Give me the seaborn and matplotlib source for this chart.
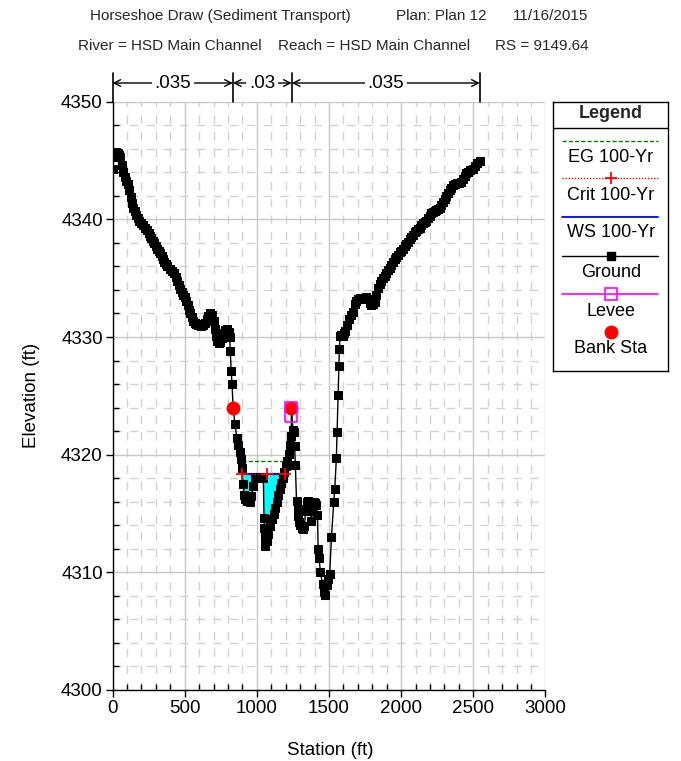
import numpy as np
import pandas as pd
import matplotlib
matplotlib.use('Agg')
import matplotlib.pyplot as plt
import matplotlib.transforms as mtransforms
from matplotlib.ticker import MultipleLocator
import seaborn as sns

# ---------------- data ----------------
ground_sta = [
    0, 8, 15, 25, 35, 45, 55, 65, 75, 85,
    95, 105, 115, 125, 135, 145, 155, 165, 175, 185,
    195, 210, 225, 240, 250, 260, 270, 280, 290, 300,
    310, 320, 330, 340, 350, 360, 370, 380, 395, 410,
    425, 440, 450, 460, 470, 480, 490, 500, 510, 520,
    530, 540, 550, 560, 570, 580, 595, 610, 625, 640,
    655, 665, 675, 690, 700, 708, 716, 725, 735, 748,
    760, 770, 780, 795, 805, 812, 816, 822, 828, 836,
    848, 862, 872, 880, 888, 894, 905, 912, 920, 935,
    950, 963, 974, 986, 1000, 1015, 1030, 1045, 1050, 1053,
    1056, 1060, 1070, 1080, 1092, 1104, 1116, 1128, 1139, 1150,
    1160, 1170, 1180, 1190, 1200, 1212, 1224, 1233, 1238, 1240,
    1250, 1258, 1262, 1267, 1275, 1282, 1288, 1295, 1300, 1310,
    1320, 1330, 1338, 1345, 1355, 1365, 1372, 1378, 1385, 1395,
    1405, 1413, 1420, 1425, 1431, 1441, 1455, 1465, 1471, 1485,
    1495, 1505, 1517, 1533, 1540, 1551, 1556, 1563, 1568, 1572,
    1576, 1585, 1595, 1605, 1610, 1625, 1640, 1655, 1667, 1678,
    1690, 1701, 1715, 1730, 1745, 1759, 1770, 1782, 1794, 1805,
    1817, 1828, 1840, 1852, 1863, 1875, 1887, 1898, 1910, 1920,
    1932, 1945, 1955, 1967, 1980, 1990, 2001, 2012, 2024, 2036,
    2048, 2059, 2070, 2082, 2093, 2105, 2117, 2128, 2140, 2152,
    2163, 2174, 2186, 2197, 2209, 2220, 2232, 2243, 2255, 2266,
    2278, 2290, 2301, 2312, 2324, 2335, 2347, 2358, 2372, 2387,
    2402, 2417, 2428, 2440, 2451, 2465, 2480, 2497, 2512, 2528,
    2543]
ground_elev = [
    4344.3, 4345.3, 4345.6, 4345.7, 4345.6, 4345.5, 4345.3, 4344.6, 4344.0, 4343.6,
    4343.3, 4343.0, 4342.5, 4341.9, 4341.4, 4341.0, 4340.7, 4340.4, 4340.1, 4339.9,
    4339.7, 4339.5, 4339.3, 4339.1, 4338.8, 4338.6, 4338.4, 4338.2, 4338.0, 4337.7,
    4337.5, 4337.3, 4337.1, 4336.9, 4336.6, 4336.4, 4336.2, 4336.0, 4335.8, 4335.6,
    4335.4, 4335.1, 4334.8, 4334.4, 4334.1, 4333.8, 4333.6, 4333.4, 4333.1, 4332.7,
    4332.3, 4332.0, 4331.7, 4331.4, 4331.2, 4331.1, 4331.0, 4330.9, 4331.0, 4331.2,
    4331.5, 4331.8, 4332.0, 4331.9, 4331.4, 4330.7, 4330.1, 4329.7, 4329.5, 4329.6,
    4329.9, 4330.3, 4330.6, 4330.7, 4330.4, 4330.0, 4328.8, 4327.1, 4326.0, 4324.0,
    4322.6, 4321.4, 4320.8, 4320.2, 4319.6, 4318.9, 4317.55, 4316.6, 4316.2, 4316.1,
    4316.0, 4316.5, 4317.3, 4318.05, 4318.1, 4318.1, 4318.1, 4318.05, 4314.6, 4313.8,
    4313.0, 4312.2, 4312.7, 4313.3, 4313.9, 4314.5, 4315.0, 4315.5, 4316.0, 4316.6,
    4317.1, 4317.6, 4318.0, 4318.5, 4319.0, 4319.5, 4320.1, 4320.8, 4321.6, 4324.0,
    4322.1, 4321.9, 4320.7, 4319.1, 4316.1, 4315.4, 4314.8, 4314.3, 4314.0, 4313.8,
    4313.7, 4313.9, 4315.2, 4316.0, 4316.1, 4315.9, 4315.2, 4314.4, 4315.6, 4316.0,
    4315.9, 4315.7, 4314.9, 4312.0, 4311.2, 4310.0, 4309.0, 4308.3, 4308.1, 4308.9,
    4309.4, 4309.9, 4313.0, 4316.0, 4317.1, 4319.7, 4321.9, 4325.1, 4327.5, 4329.0,
    4330.1, 4330.2, 4330.1, 4330.3, 4330.5, 4331.0, 4331.5, 4331.9, 4332.1, 4332.8,
    4333.1, 4333.2, 4333.3, 4333.3, 4333.2, 4333.4, 4333.2, 4332.9, 4332.7, 4332.8,
    4333.0, 4333.6, 4334.2, 4334.5, 4334.8, 4335.0, 4335.2, 4335.4, 4335.7, 4335.9,
    4336.1, 4336.4, 4336.6, 4336.8, 4337.0, 4337.2, 4337.35, 4337.5, 4337.7, 4337.9,
    4338.1, 4338.3, 4338.5, 4338.7, 4338.9, 4339.0, 4339.2, 4339.3, 4339.5, 4339.7,
    4339.8, 4339.9, 4340.1, 4340.3, 4340.5, 4340.6, 4340.7, 4340.8, 4340.9, 4341.0,
    4341.2, 4341.5, 4341.7, 4342.0, 4342.2, 4342.5, 4342.7, 4342.9, 4343.0, 4343.1,
    4343.1, 4343.2, 4343.4, 4343.7, 4343.9, 4344.0, 4344.2, 4344.3, 4344.5, 4344.8,
    4345.0]

bank_sta = [836, 1240]
bank_elev = [4324.0, 4324.0]
levee_sta = [1240]
levee_elev = [4323.65]
ws_sta = [897, 1187]
ws_elev = [4318.35, 4318.35]
crit_sta = [899, 1067, 1192]
crit_elev = [4318.4, 4318.4, 4318.4]
eg_sta = [894, 1225]
eg_elev = [4319.45, 4319.45]

n_bounds = [0, 834, 1242, 2545]
n_values = ['.035', '.03', '.035']

legend_labels = ['EG 100-Yr', 'Crit 100-Yr', 'WS 100-Yr', 'Ground', 'Levee', 'Bank Sta']

# ---------------- style ----------------
sns.set_theme(style='white')
plt.rcParams['font.family'] = ['Liberation Sans', 'DejaVu Sans']

W, H = 681, 761
fig = plt.figure(figsize=(W / 100, H / 100), dpi=100)
fig.patch.set_facecolor('white')


def fx(px):
    return px / W


def fy(py):
    return 1 - py / H


ax_l, ax_r, ax_t, ax_b = 112.5, 545.5, 101.7, 690.0
ax = fig.add_axes([fx(ax_l), fy(ax_b), (ax_r - ax_l) / W, (ax_b - ax_t) / H])
ax.set_facecolor('white')

# water fill
gs = np.array(ground_sta, dtype=float)
ge = np.array(ground_elev, dtype=float)
ws_level = ws_elev[0]
mask = (gs >= ws_sta[0] - 5) & (gs <= ws_sta[1] + 5)
ax.fill_between(gs, ge, ws_level, where=mask & (ge < ws_level), interpolate=True,
                color='#00ffff', linewidth=0, zorder=2)

ax.plot(eg_sta, eg_elev, color='#008000', lw=1, ls=(0, (3, 1.5)), zorder=3)
ax.plot(ws_sta, ws_elev, color='#0000ff', lw=1.5, zorder=3)

df = pd.DataFrame({'Station': gs, 'Elevation': ge})
sns.lineplot(data=df, x='Station', y='Elevation', sort=False, estimator=None, ax=ax,
             color='black', lw=1, marker='s', markersize=5.5, markeredgecolor='black',
             markerfacecolor='black', zorder=4)

ax.plot(crit_sta, crit_elev, color='#ff0000', lw=1, ls=(0, (1, 1.2)), marker='+',
        markersize=8, markeredgewidth=1.3, zorder=4.5)

ax.plot(bank_sta, bank_elev, ls='none', marker='o', markersize=9, color='#ff0000',
        markeredgecolor='#ff0000', zorder=5)
rect_marker = [(-0.57, -1), (0.57, -1), (0.57, 1), (-0.57, 1), (-0.57, -1)]
ax.plot(levee_sta, levee_elev, ls='none', marker=rect_marker, markersize=15,
        markerfacecolor='none', markeredgecolor='#ff00ff', markeredgewidth=1.2, zorder=6)

ax.set_xlim(0, 3000)
ax.set_ylim(4300, 4350)
ax.xaxis.set_major_locator(MultipleLocator(500))
ax.xaxis.set_minor_locator(MultipleLocator(100))
ax.yaxis.set_major_locator(MultipleLocator(10))
ax.yaxis.set_minor_locator(MultipleLocator(2))
ax.grid(which='major', color='#c8c8c8', lw=1, ls='-', zorder=0)
ax.grid(which='minor', color='#d2d2d2', lw=1, ls=(0, (6, 6)), zorder=0)
ax.set_axisbelow(True)

for s in ['top', 'right']:
    ax.spines[s].set_visible(False)
for s in ['left', 'bottom']:
    ax.spines[s].set_color('black')
    ax.spines[s].set_linewidth(1)

ax.tick_params(which='major', direction='out', length=5, width=1, color='black',
               labelsize=13.5, labelcolor='black', bottom=True, left=True, pad=2)
ax.tick_params(which='minor', direction='in', length=4, width=1, color='black',
               bottom=True, left=True)

ax.set_xlabel('Station (ft)', fontsize=13.5, color='black')
ax.set_ylabel('Elevation (ft)', fontsize=13.5, color='black')
ax.xaxis.set_label_coords((330 - ax_l) / (ax_r - ax_l), (ax_b - 742) / (ax_b - ax_t))
ax.yaxis.set_label_coords((40 - ax_l) / (ax_r - ax_l), 0.5)

# Manning's n annotation above the plot
trans = mtransforms.blended_transform_factory(ax.transData, ax.transAxes)
y_top = (ax_b - 73) / (ax_b - ax_t)
y_arr = (ax_b - 83) / (ax_b - ax_t)
for b in n_bounds:
    ax.plot([b, b], [1.0, y_top], transform=trans, color='black', lw=1.2, clip_on=False)
for i, val in enumerate(n_values):
    a, b = n_bounds[i], n_bounds[i + 1]
    ax.annotate('', xy=(b, y_arr), xytext=(a, y_arr), xycoords=trans, textcoords=trans,
                arrowprops=dict(arrowstyle='<->', lw=1, color='black', shrinkA=0, shrinkB=0,
                                mutation_scale=12), annotation_clip=False)
    ax.text((a + b) / 2, y_arr, val, transform=trans, ha='center', va='center', fontsize=13.5,
            color='black', bbox=dict(fc='white', ec='none', pad=2), clip_on=False, zorder=10)

# titles
tfs = 11
fig.text(fx(90), fy(16), 'Horseshoe Draw (Sediment Transport)', ha='left', va='center', fontsize=tfs)
fig.text(fx(396), fy(16), 'Plan: Plan 12', ha='left', va='center', fontsize=tfs)
fig.text(fx(588), fy(16), '11/16/2015', ha='right', va='center', fontsize=tfs)
fig.text(fx(78), fy(46), 'River = HSD Main Channel', ha='left', va='center', fontsize=tfs)
fig.text(fx(278), fy(46), 'Reach = HSD Main Channel', ha='left', va='center', fontsize=tfs)
fig.text(fx(589), fy(46), 'RS = 9149.64', ha='right', va='center', fontsize=tfs)

# legend box
lx0, lx1, ly0, ly1 = 553.3, 668.3, 101.7, 371.0
lg = fig.add_axes([fx(lx0), fy(ly1), (lx1 - lx0) / W, (ly1 - ly0) / H])
lg.set_xlim(0, lx1 - lx0)
lg.set_ylim(ly1 - ly0, 0)
lg.set_xticks([])
lg.set_yticks([])
lg.set_facecolor('white')
for s in lg.spines.values():
    s.set_color('black')
    s.set_linewidth(1)
cx = (lx1 - lx0) / 2
lfs = 13
lg.text(cx, 12, 'Legend', ha='center', va='center', fontsize=lfs, fontweight='bold')
lg.plot([0, lx1 - lx0], [26.6, 26.6], color='black', lw=1)
sx0, sx1 = 9, 105
line_y = [39, 76.6, 115.6, 154, 192.3, 230]
text_y = [56, 94, 131, 171, 210, 247]
lg.plot([sx0, sx1], [line_y[0]] * 2, color='#008000', lw=1, ls=(0, (3, 1.5)))
lg.plot([sx0, sx1], [line_y[1]] * 2, color='#ff0000', lw=1, ls=(0, (1, 1.2)))
lg.plot([cx], [line_y[1]], marker='+', color='#ff0000', markersize=8, markeredgewidth=1.3)
lg.plot([sx0, sx1], [line_y[2]] * 2, color='#0000ff', lw=1.3)
lg.plot([sx0, sx1], [line_y[3]] * 2, color='black', lw=1)
lg.plot([cx], [line_y[3]], marker='s', color='black', markersize=5.5)
lg.plot([sx0, sx1], [line_y[4]] * 2, color='#ff00ff', lw=1.2)
lg.plot([cx], [line_y[4]], marker='s', markerfacecolor='none', markeredgecolor='#ff00ff',
        markersize=8.5, markeredgewidth=1.2)
lg.plot([cx], [line_y[5]], marker='o', color='#ff0000', markersize=9)
for lab, ty in zip(legend_labels, text_y):
    lg.text(cx, ty, lab, ha='center', va='center', fontsize=lfs, color='black')

fig.savefig('out.png', dpi=100, facecolor='white')
